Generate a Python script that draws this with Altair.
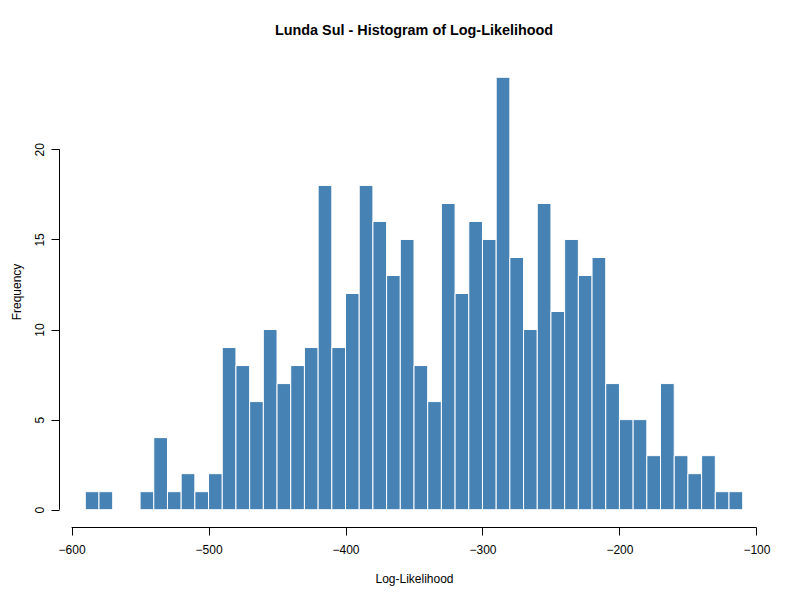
import pandas as pd
import altair as alt

# histogram bins (width 10) and counts
bin_start = list(range(-590, -110, 10))
counts = [1, 1, 0, 0, 1, 4, 1, 2, 1, 2,
          9, 8, 6, 10, 7, 8, 9, 18, 9, 12,
          18, 16, 13, 15, 8, 6, 17, 12, 16, 15,
          24, 14, 10, 17, 11, 15, 13, 14, 7, 5,
          5, 3, 7, 3, 2, 3, 1, 1]
bin_width = 10

x_ticks = [-600, -500, -400, -300, -200, -100]
y_ticks = [0, 5, 10, 15, 20]

df = pd.DataFrame({'start': bin_start, 'count': counts})
df['end'] = df['start'] + bin_width
df = df[df['count'] > 0]

W, H = 710, 467
font = 'Liberation Sans'

# R-style range: data range extended by 4 %
x_lo, x_hi = min(bin_start), max(bin_start) + bin_width
x_pad = (x_hi - x_lo) * 0.04
y_pad = max(counts) * 0.04
x_scale = alt.Scale(domain=[x_lo - x_pad, x_hi + x_pad], nice=False, zero=False)
y_scale = alt.Scale(domain=[-y_pad, max(counts) + y_pad], nice=False, zero=False)

x_axis = alt.Axis(
    values=x_ticks, title='Log-Likelihood', grid=False, domain=False,
    tickSize=8, tickColor='black', labelPadding=9, labelFontSize=12,
    labelColor='black', labelFont=font,
    titleFont=font, titleFontSize=12, titleFontWeight='normal', titleColor='black',
    titleX=W / 2, titleY=51, titleBaseline='middle', titleAlign='center')
y_axis = alt.Axis(
    values=y_ticks, title='Frequency', grid=False, domain=False,
    tickSize=8, tickColor='black', labelPadding=8, labelFontSize=12,
    labelAngle=270, labelAlign='center', labelBaseline='alphabetic',
    labelColor='black', labelFont=font,
    titleFont=font, titleFontSize=12, titleFontWeight='normal', titleColor='black',
    titleAngle=270, titleX=-43, titleY=H / 2 - 2, titleBaseline='middle', titleAlign='center')

bars = alt.Chart(df).mark_rect(color='#4682B4', stroke='white', strokeWidth=1).encode(
    alt.X('start:Q', scale=x_scale, axis=x_axis),
    alt.X2('end:Q'),
    alt.Y('count:Q', scale=y_scale, axis=y_axis),
    alt.Y2(datum=0),
)

# axis lines that span only the tick range, like R
x_line = alt.Chart(pd.DataFrame({'start': [min(x_ticks)], 'end': [max(x_ticks)]})).mark_rule(
    color='black', strokeWidth=1).encode(
    x=alt.X('start:Q', scale=x_scale, axis=x_axis), x2='end:Q', y=alt.value(H + 0.5))

y_line = alt.Chart(pd.DataFrame({'count': [min(y_ticks)], 'top': [max(y_ticks)]})).mark_rule(
    color='black', strokeWidth=1).encode(
    y=alt.Y('count:Q', scale=y_scale, axis=y_axis), y2='top:Q', x=alt.value(0.5))

chart = (bars + x_line + y_line).properties(
    width=W, height=H,
    title=alt.TitleParams('Lunda Sul - Histogram of Log-Likelihood', font=font,
                          fontSize=14.4, fontWeight='bold', color='black',
                          anchor='middle', offset=22),
    autosize=alt.AutoSizeParams(type='none'),
    padding={'left': 51, 'top': 52, 'right': 15, 'bottom': 60},
).configure_view(stroke=None)

chart.save("out.html", embed_options={"renderer": "svg", "actions": False})
